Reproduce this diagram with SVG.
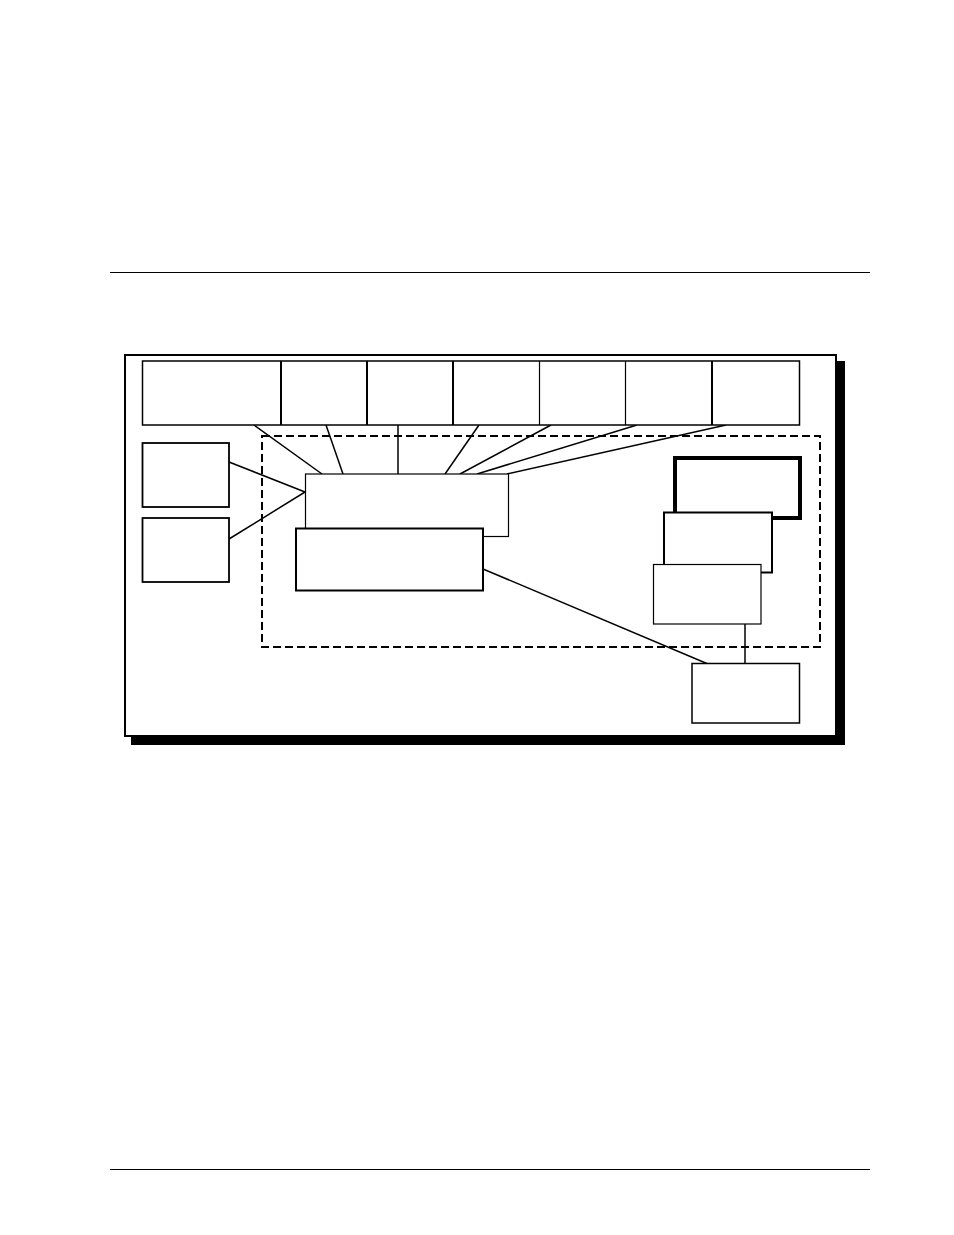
<svg xmlns="http://www.w3.org/2000/svg" width="954" height="1235" viewBox="0 0 954 1235">
<style>
.box{fill:#fff;stroke:#000}
.c{stroke:#000;stroke-width:1.5;fill:none}
.rule{stroke:#000;stroke-width:1}
</style>
<rect x="0" y="0" width="954" height="1235" fill="#fff"/>
<line class="rule" x1="110" y1="272.5" x2="870" y2="272.5"/>
<line class="rule" x1="110" y1="1169.5" x2="870" y2="1169.5"/>
<g id="frame">
<rect x="131" y="361" width="714" height="384" fill="#000"/>
<rect class="box" x="125" y="355" width="711" height="381" stroke-width="2"/>
</g>
<g id="group-boundary">
<rect x="262" y="436" width="558" height="211" fill="none" stroke="#000" stroke-width="2" stroke-dasharray="8,4"/>
</g>
<g id="connectors">
<line class="c" x1="254" y1="425" x2="322" y2="474"/>
<line class="c" x1="326" y1="425" x2="343" y2="474"/>
<line class="c" x1="398" y1="425" x2="398" y2="474"/>
<line class="c" x1="479" y1="425" x2="445" y2="474"/>
<line class="c" x1="551" y1="425" x2="460" y2="474"/>
<line class="c" x1="637" y1="425" x2="477" y2="474"/>
<line class="c" x1="726" y1="425" x2="507" y2="474"/>
<line class="c" x1="229" y1="462" x2="305" y2="492"/>
<line class="c" x1="229" y1="539" x2="305" y2="492"/>
<line class="c" x1="483" y1="569" x2="708" y2="664"/>
<line class="c" x1="745" y1="624" x2="745" y2="664" stroke-width="1.2"/>
</g>
<g id="top-row">
<rect class="box" x="142.5" y="361" width="657" height="64" stroke-width="1.5"/>
<line x1="281" y1="361" x2="281" y2="425" stroke="#000" stroke-width="2"/>
<line x1="367" y1="361" x2="367" y2="425" stroke="#000" stroke-width="2"/>
<line x1="453" y1="361" x2="453" y2="425" stroke="#000" stroke-width="2"/>
<line x1="539.5" y1="361" x2="539.5" y2="425" stroke="#000" stroke-width="1.2"/>
<line x1="625.5" y1="361" x2="625.5" y2="425" stroke="#000" stroke-width="1.2"/>
<line x1="712" y1="361" x2="712" y2="425" stroke="#000" stroke-width="2"/>
</g>
<g id="left-box-1"><rect class="box" x="142.5" y="443" width="86.5" height="64" stroke-width="1.8"/></g>
<g id="left-box-2"><rect class="box" x="142.5" y="518" width="86.5" height="64" stroke-width="1.8"/></g>
<g id="box-a"><rect class="box" x="305.5" y="474" width="203" height="62.5" stroke-width="1.2"/></g>
<g id="box-b"><rect class="box" x="296" y="528.5" width="187" height="62" stroke-width="2"/></g>
<g id="stack-back"><rect class="box" x="675" y="458" width="125" height="60" stroke-width="4"/></g>
<g id="stack-middle"><rect class="box" x="664" y="512.5" width="108" height="60" stroke-width="2"/></g>
<g id="stack-front"><rect class="box" x="653.5" y="564.5" width="107.5" height="59.5" stroke-width="1.2"/></g>
<g id="bottom-box"><rect class="box" x="692" y="663.5" width="107.5" height="59.5" stroke-width="1.5"/></g>
</svg>
